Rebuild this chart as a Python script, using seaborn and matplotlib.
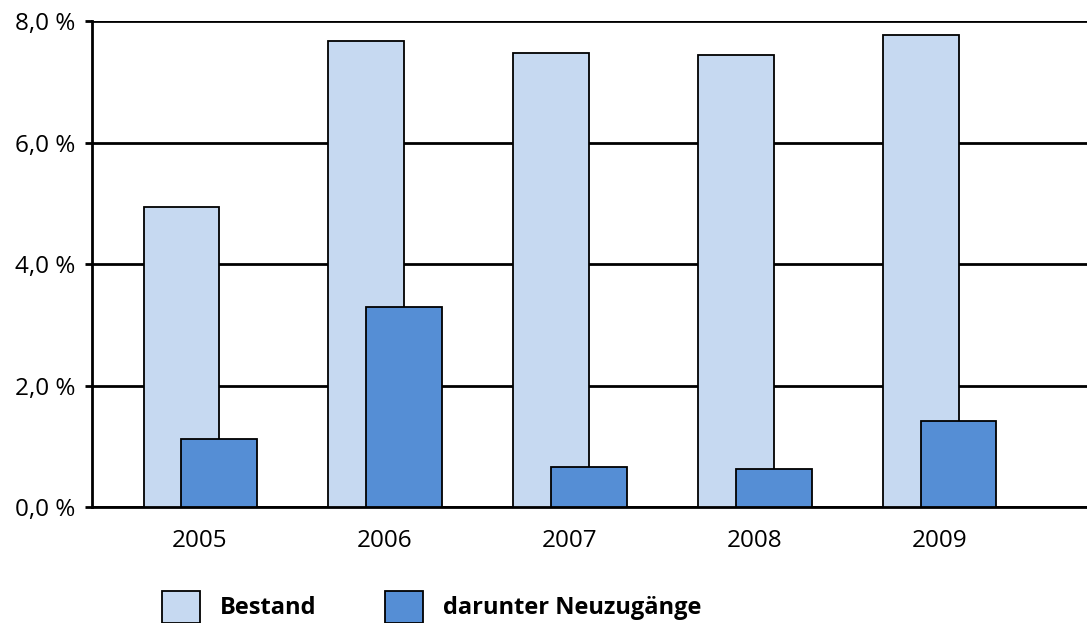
import numpy as np
import pandas as pd
import matplotlib
matplotlib.use("Agg")
import matplotlib.pyplot as plt
from matplotlib.patches import Patch
import seaborn as sns

# data
years = [2005, 2006, 2007, 2008, 2009]
bestand = [4.94, 7.67, 7.47, 7.44, 7.77]
neuzugaenge = [1.12, 3.29, 0.66, 0.63, 1.42]
y_ticks = [0, 2, 4, 6, 8]
y_ticklabels = ["0,0 %", "2,0 %", "4,0 %", "6,0 %", "8,0 %"]
series_names = ["Bestand", "darunter Neuzugänge"]

light = "#C6D9F1"
dark = "#558ED5"

sns.set_style("white")
plt.rcParams["font.family"] = ["Open Sans", "DejaVu Sans"]
plt.rcParams["text.color"] = "black"
plt.rcParams["xtick.color"] = "black"
plt.rcParams["ytick.color"] = "black"

fig = plt.figure(figsize=(10.87, 6.23), dpi=100)
ax = fig.add_axes([0.0846, 0.186, 0.9154, 0.780])

# overlapping bars: shift each series a bit off the year
yrs = np.array(years, dtype=float)
df_b = pd.DataFrame({"x": yrs - 0.1, "v": bestand})
df_n = pd.DataFrame({"x": yrs + 0.105, "v": neuzugaenge})

sns.barplot(data=df_b, x="x", y="v", native_scale=True, width=0.41,
            color=light, saturation=1, edgecolor="black", linewidth=1.3,
            ax=ax, zorder=3)
sns.barplot(data=df_n, x="x", y="v", native_scale=True, width=0.41,
            color=dark, saturation=1, edgecolor="black", linewidth=1.3,
            ax=ax, zorder=4)

ax.set_xlim(years[0] - 0.584, years[-1] + 0.80)
ax.set_ylim(0, 8)
ax.set_xticks(years)
ax.set_xticklabels([str(y) for y in years])
ax.set_yticks(y_ticks)
ax.set_yticklabels(y_ticklabels)
ax.set_xlabel("")
ax.set_ylabel("")

ax.yaxis.grid(True, color="black", linewidth=2)
ax.set_axisbelow(True)
for s in ["top", "right"]:
    ax.spines[s].set_visible(False)
ax.spines["left"].set_color("black")
ax.spines["left"].set_linewidth(2)
ax.spines["bottom"].set_color("black")
ax.spines["bottom"].set_linewidth(2)

ax.tick_params(axis="y", left=True, length=5, width=2, color="black",
               labelsize=17.5, pad=7)
ax.tick_params(axis="x", bottom=False, length=0, labelsize=17.5, pad=16)

handles = [Patch(facecolor=light, edgecolor="black", linewidth=1.3),
           Patch(facecolor=dark, edgecolor="black", linewidth=1.3)]
fig.legend(handles, series_names, loc="center left",
           bbox_to_anchor=(0.149, 0.026), ncol=2, frameon=False,
           prop={"weight": "bold", "size": 17},
           handlelength=1.6, handleheight=1.7, handletextpad=0.85,
           columnspacing=2.9, borderaxespad=0, borderpad=0)

fig.savefig("out.png", dpi=100)
